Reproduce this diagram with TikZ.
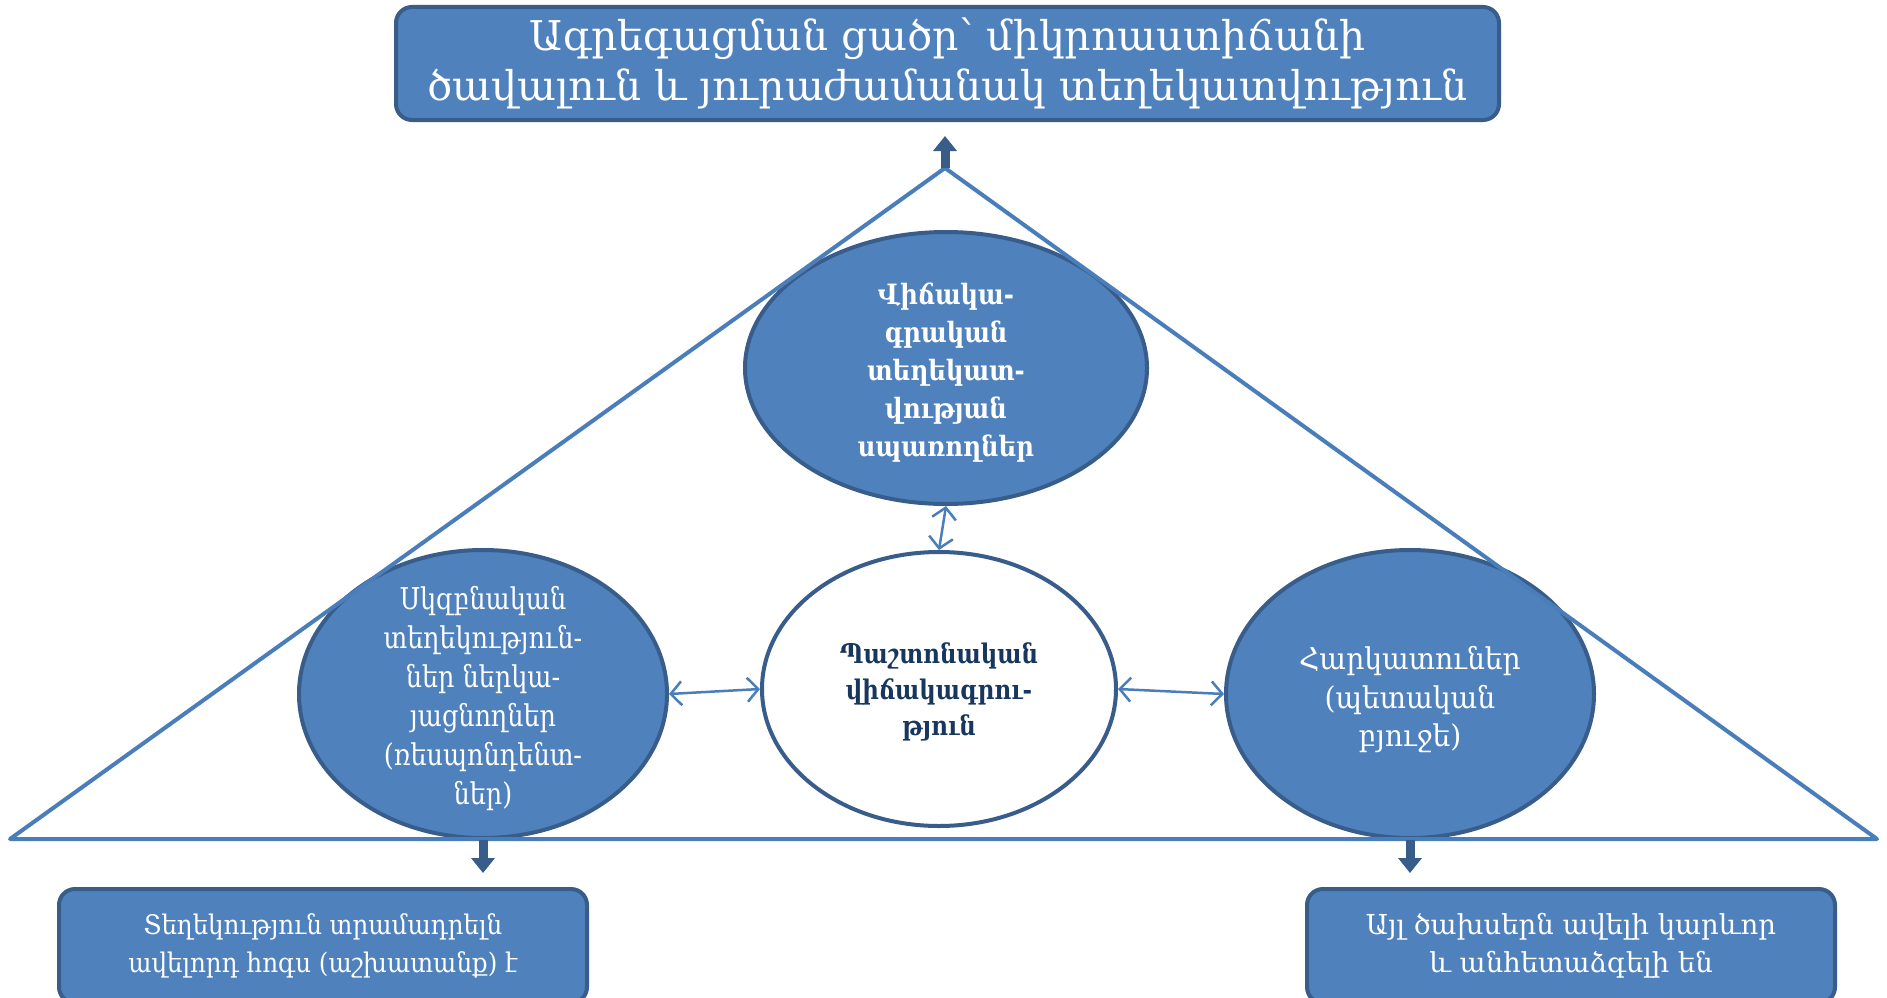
\documentclass[tikz,border=0pt]{standalone}
\usepackage{fontspec}
\setmainfont{DejaVu Serif}
\newfontfamily\armc[FakeStretch=0.85]{DejaVu Serif}
\newfontfamily\armt[FakeStretch=0.87]{DejaVu Serif}
\newfontfamily\armr[FakeStretch=0.94]{DejaVu Serif}
\newfontfamily\armb[FakeStretch=0.91]{DejaVu Serif}
\usetikzlibrary{arrows.meta,shapes.geometric}
\definecolor{bfill}{HTML}{4F81BD}
\definecolor{bline}{HTML}{385D8A}
\definecolor{tline}{HTML}{4A7EBB}
\definecolor{navy}{HTML}{17375E}
\begin{document}
\begin{tikzpicture}[x=1pt,y=-1pt,
  blob/.style={ellipse, fill=bfill, draw=bline, line width=4pt, inner sep=0pt},
  btxt/.style={inner sep=0pt, align=center, text=white},
  rbox/.style={rectangle, rounded corners=16pt, fill=bfill, draw=bline, line width=4pt, inner sep=0pt, align=center, text=white},
  link/.style={tline, line width=2.5pt, {Straight Barb[length=11pt,width=24pt,line width=2.5pt]}-{Straight Barb[length=11pt,width=24pt,line width=2.5pt]}},
  blockarrow/.style={bline, line width=9pt, -{Triangle[length=15pt,width=23pt]}},
  tri/.style={tline, line width=4pt, line join=round}
]
\useasboundingbox (0,0) rectangle (1887,998);
\fill[white] (0,0) rectangle (1887,998);

\node[rbox, minimum width=1103pt, minimum height=113pt, font=\fontsize{41}{50}\selectfont] (title) at (947.5,63.5)
  {Ագրեգացման ցածր՝ միկրոաստիճանի\\ծավալուն և յուրաժամանակ տեղեկատվություն};

\node[blob, minimum width=402pt, minimum height=272pt] (T) at (946,368) {};
\node[btxt, font=\armt\bfseries\fontsize{28}{38}\selectfont] (Tt) at ([yshift=-5pt]T.center)
  {Վիճակա-\\գրական\\տեղեկատ-\\վության\\սպառողներ};

\node[blob, fill=white, minimum width=354pt, minimum height=274pt] (C) at (939,689) {};
\node[btxt, text=navy, font=\armc\bfseries\fontsize{27}{36}\selectfont] (Ct) at ([yshift=-3pt]C.center)
  {Պաշտոնական\\վիճակագրու-\\թյուն};

\node[blob, minimum width=368pt, minimum height=288pt] (L) at (483,694) {};
\node[btxt, font=\armc\fontsize{30}{39}\selectfont] (Lt) at ([yshift=-5pt]L.center)
  {Սկզբնական\\տեղեկություն-\\ներ ներկա-\\յացնողներ\\(ռեսպոնդենտ-\\ներ)};

\node[blob, minimum width=368pt, minimum height=288pt] (R) at (1410,694) {};
\node[btxt, font=\armr\fontsize{30}{38.5}\selectfont] (Rt) at ([yshift=-6pt]R.center)
  {Հարկատուներ\\(պետական\\բյուջե)};

\node[rbox, minimum width=528pt, minimum height=114pt, font=\armb\fontsize{27}{38}\selectfont] (lbox) at (323,946)
  {Տեղեկություն տրամադրելն\\ավելորդ հոգս (աշխատանք) է};
\node[rbox, minimum width=528pt, minimum height=114pt, font=\fontsize{27.5}{38}\selectfont] (rbox) at (1571,946)
  {Այլ ծախսերն ավելի կարևոր\\և անհետաձգելի են};

\coordinate (apex) at (945,168);
\coordinate (bl) at (10,839);
\coordinate (br) at (1877,839);
\draw[tri] (apex) -- (bl) -- (br) -- cycle;

\draw[link] (L.east) -- (C.west);
\draw[link] (C.east) -- (R.west);
\draw[link] (T.south) -- (C.north);

\draw[blockarrow, shorten >=14pt] (apex) -- (apex |- title.south);
\draw[blockarrow, shorten >=14pt] (L.south) -- (L.south |- lbox.north);
\draw[blockarrow, shorten >=14pt] (R.south) -- (R.south |- rbox.north);
\end{tikzpicture}
\end{document}
